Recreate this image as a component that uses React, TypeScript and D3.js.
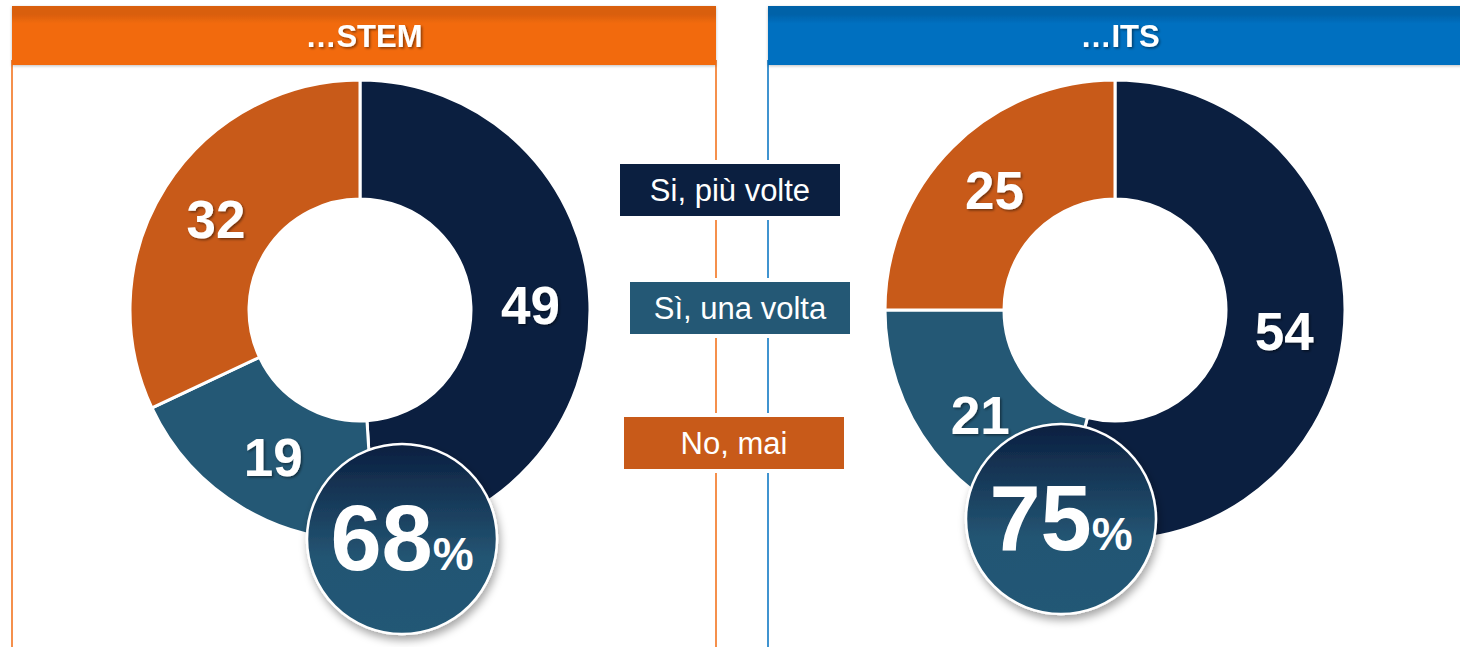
import React from "react";
import * as d3 from "d3";

const categories = ["Si, più volte", "Sì, una volta", "No, mai"];
const stemValues = [49, 19, 32];
const itsValues = [54, 21, 25];
const panelTitles = ["…STEM", "…ITS"];
const totals = [68, 75];
const sliceColors = ["#0B1F40", "#245875", "#C85A19"];

const W = 1460;
const H = 647;

type Panel = {
  title: string;
  values: number[];
  total: number;
  x0: number;
  headerColor: string;
  headerTop: string;
  cx: number;
  cy: number;
  bx: number;
  by: number;
};

const panels: Panel[] = [
  { title: panelTitles[0], values: stemValues, total: totals[0], x0: 12, headerColor: "#F26B10", headerTop: "#D95E0D", cx: 360, cy: 310, bx: 402, by: 539 },
  { title: panelTitles[1], values: itsValues, total: totals[1], x0: 768, headerColor: "#0070C0", headerTop: "#0062A8", cx: 1115, cy: 310, bx: 1061, by: 519 },
];

const legendBoxes = [
  { x: 618, y: 162 },
  { x: 628, y: 280 },
  { x: 622, y: 415 },
];

const PANEL_W = 704;
const OUTER = 230;
const INNER = 111;
const BADGE_R = 95;

export default function App() {
  const pie = d3.pie<number>().sort(null).value((d) => d).startAngle(0).endAngle(2 * Math.PI);
  const arc = d3.arc<d3.PieArcDatum<number>>().innerRadius(INNER).outerRadius(OUTER);
  const font = "'Liberation Sans', Arial, sans-serif";

  return (
    <svg width={W} height={H} style={{ position: "fixed", left: 0, top: 0, background: "#fff" }} fontFamily={font}>
      <defs>
        <linearGradient id="badgeGrad" x1="0" y1="0" x2="0" y2="1">
          <stop offset="0" stopColor="#0B1F40" />
          <stop offset="0.6" stopColor="#245573" />
          <stop offset="1" stopColor="#245875" />
        </linearGradient>
        {panels.map((p, i) => (
          <linearGradient key={i} id={`hdr${i}`} x1="0" y1="0" x2="0" y2="1">
            <stop offset="0" stopColor={p.headerTop} />
            <stop offset="0.14" stopColor={p.headerTop} />
            <stop offset="0.3" stopColor={p.headerColor} />
            <stop offset="1" stopColor={p.headerColor} />
          </linearGradient>
        ))}
        <filter id="badgeShadow" x="-30%" y="-30%" width="160%" height="170%">
          <feDropShadow dx="2" dy="5" stdDeviation="4" floodColor="#000" floodOpacity="0.35" />
        </filter>
        <filter id="txtShadow" x="-20%" y="-20%" width="140%" height="140%">
          <feDropShadow dx="1.5" dy="1.5" stdDeviation="1" floodColor="#000" floodOpacity="0.45" />
        </filter>
        <filter id="hdrShadow" x="-5%" y="-20%" width="110%" height="150%">
          <feDropShadow dx="0" dy="1" stdDeviation="1.5" floodColor="#000" floodOpacity="0.25" />
        </filter>
      </defs>

      {panels.map((p, i) => {
        const arcs = pie(p.values);
        return (
          <g key={i}>
            <line x1={p.x0} x2={p.x0} y1={60} y2={H} stroke={p.headerColor} strokeWidth={1.5} />
            {i === 0 && <line x1={p.x0 + PANEL_W} x2={p.x0 + PANEL_W} y1={60} y2={H} stroke={p.headerColor} strokeWidth={1.5} />}
            <rect x={p.x0} y={6} width={PANEL_W} height={59} fill={`url(#hdr${i})`} filter="url(#hdrShadow)" />
            <text x={p.x0 + PANEL_W / 2} y={47} textAnchor="middle" fill="#fff" fontWeight="bold" fontSize={31} filter="url(#txtShadow)">
              {p.title}
            </text>
            <g transform={`translate(${p.cx},${p.cy})`}>
              {arcs.map((a, j) => (
                <path key={j} d={arc(a) || ""} fill={sliceColors[j]} stroke="#fff" strokeWidth={3} />
              ))}
              {arcs.map((a, j) => {
                const [lx, ly] = arc.centroid(a);
                return (
                  <text key={j} x={lx} y={ly} dy="0.36em" textAnchor="middle" fill="#fff" fontWeight="bold" fontSize={53} filter="url(#txtShadow)">
                    {a.data}
                  </text>
                );
              })}
            </g>
            <g transform={`translate(${p.bx},${p.by})`}>
              <circle r={BADGE_R} fill="url(#badgeGrad)" stroke="#fff" strokeWidth={2.5} filter="url(#badgeShadow)" />
              <text x={0} y={31} textAnchor="middle" fill="#fff" fontWeight="bold">
                <tspan fontSize={92}>{p.total}</tspan>
                <tspan fontSize={46}>%</tspan>
              </text>
            </g>
          </g>
        );
      })}

      {categories.map((c, i) => (
        <g key={c}>
          <rect x={legendBoxes[i].x} y={legendBoxes[i].y} width={224} height={56} fill={sliceColors[i]} stroke="#fff" strokeWidth={4} />
          <text x={legendBoxes[i].x + 112} y={legendBoxes[i].y + 28} dy="0.36em" textAnchor="middle" fill="#fff" fontSize={31}>
            {c}
          </text>
        </g>
      ))}
    </svg>
  );
}
